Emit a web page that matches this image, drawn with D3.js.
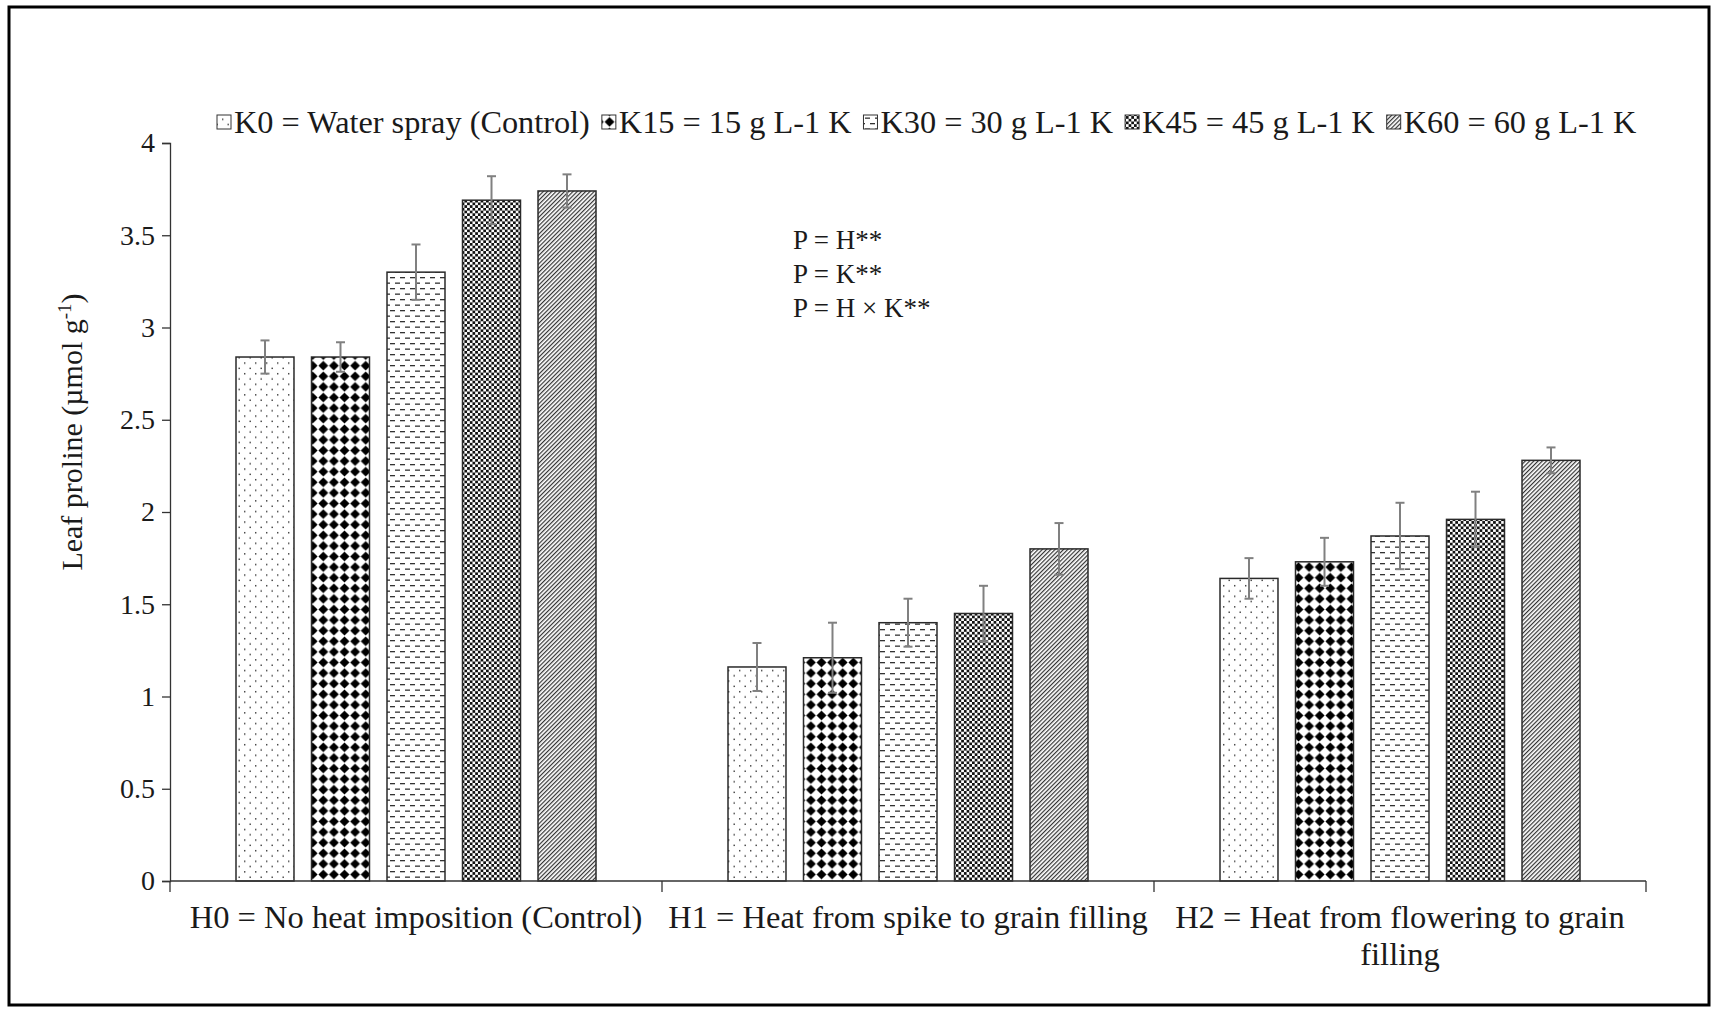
<!DOCTYPE html>
<html>
<head>
<meta charset="utf-8">
<script src="https://cdn.jsdelivr.net/npm/d3@7"></script>
<style>
  body { margin: 0; background: #fff; }
  svg { display: block; }
  text { font-family: "Liberation Serif", "Times New Roman", serif; fill: #1a1a1a; }
</style>
</head>
<body>
<svg id="chart" width="1715" height="1010"></svg>
<script>
// Heat treatments (groups on the x axis)
const categories = [
  "H0 = No heat imposition (Control)",
  "H1 = Heat from spike to grain filling",
  "H2 = Heat from flowering to grain filling"
];

// Potassium spray treatments (series)
const seriesKeys = ["K0", "K15", "K30", "K45", "K60"];
const seriesNames = [
  "K0 = Water spray (Control)",
  "K15 = 15 g L-1 K",
  "K30 = 30 g L-1 K",
  "K45 = 45 g L-1 K",
  "K60 = 60 g L-1 K"
];

// Leaf proline means (µmol g-1), one value per heat treatment
const k0Values  = [2.84, 1.16, 1.64];
const k15Values = [2.84, 1.21, 1.73];
const k30Values = [3.30, 1.40, 1.87];
const k45Values = [3.69, 1.45, 1.96];
const k60Values = [3.74, 1.80, 2.28];

// Standard errors
const k0Errors  = [0.09, 0.13, 0.11];
const k15Errors = [0.08, 0.19, 0.13];
const k30Errors = [0.15, 0.13, 0.18];
const k45Errors = [0.13, 0.15, 0.15];
const k60Errors = [0.09, 0.14, 0.07];

const yTicks = [0, 0.5, 1, 1.5, 2, 2.5, 3, 3.5, 4];
const yTickLabels = ["0", "0.5", "1", "1.5", "2", "2.5", "3", "3.5", "4"];

const significance = ["P = H**", "P = K**", "P = H \u00d7 K**"];

const seriesValues = [k0Values, k15Values, k30Values, k45Values, k60Values];
const seriesErrors = [k0Errors, k15Errors, k30Errors, k45Errors, k60Errors];

const SERIF = '"Liberation Serif", "Times New Roman", serif';
const svg = d3.select("#chart");
const W = 1715, H = 1010;
const margin = { left: 170, right: W - 1646, top: 143, bottom: H - 881 };

// Outer frame
svg.append("rect")
  .attr("x", 9).attr("y", 7).attr("width", 1700).attr("height", 998)
  .attr("fill", "#fff").attr("stroke", "#000").attr("stroke-width", 3);

// ---- Fill patterns ----
const defs = svg.append("defs");

// sparse dots
const pDots = defs.append("pattern").attr("id", "pat-K0")
  .attr("patternUnits", "userSpaceOnUse").attr("width", 11).attr("height", 10.6);
pDots.append("rect").attr("width", 11).attr("height", 10.6).attr("fill", "#fff");
pDots.append("rect").attr("x", 2).attr("y", 2).attr("width", 1.4).attr("height", 1.4).attr("fill", "#333");
pDots.append("rect").attr("x", 7.5).attr("y", 7.3).attr("width", 1.4).attr("height", 1.4).attr("fill", "#333");

// solid diamonds
const pDia = defs.append("pattern").attr("id", "pat-K15")
  .attr("patternUnits", "userSpaceOnUse").attr("width", 10.6).attr("height", 10.6);
pDia.append("rect").attr("width", 10.6).attr("height", 10.6).attr("fill", "#fff");
pDia.append("path").attr("d", "M5.3,0.4 L10.2,5.3 L5.3,10.2 L0.4,5.3 Z").attr("fill", "#000");

// dashed horizontal
const pDash = defs.append("pattern").attr("id", "pat-K30")
  .attr("patternUnits", "userSpaceOnUse").attr("width", 10).attr("height", 11);
pDash.append("rect").attr("width", 10).attr("height", 11).attr("fill", "#fff");
pDash.append("rect").attr("x", 0).attr("y", 2).attr("width", 5).attr("height", 1.3).attr("fill", "#333");
pDash.append("rect").attr("x", 5).attr("y", 7.5).attr("width", 5).attr("height", 1.3).attr("fill", "#333");

// small checkerboard
const pChk = defs.append("pattern").attr("id", "pat-K45")
  .attr("patternUnits", "userSpaceOnUse").attr("width", 5.4).attr("height", 5.4);
pChk.append("rect").attr("width", 5.4).attr("height", 5.4).attr("fill", "#fff");
pChk.append("rect").attr("x", 0).attr("y", 0).attr("width", 2.7).attr("height", 2.7).attr("fill", "#111");
pChk.append("rect").attr("x", 2.7).attr("y", 2.7).attr("width", 2.7).attr("height", 2.7).attr("fill", "#111");

// upward diagonal lines
const pDiag = defs.append("pattern").attr("id", "pat-K60")
  .attr("patternUnits", "userSpaceOnUse").attr("width", 3).attr("height", 10)
  .attr("patternTransform", "rotate(45)");
pDiag.append("rect").attr("width", 3).attr("height", 10).attr("fill", "#fff");
pDiag.append("rect").attr("x", 0).attr("y", 0).attr("width", 1.2).attr("height", 10).attr("fill", "#333");

// ---- Scales ----
const x0 = d3.scaleBand()
  .domain(categories)
  .range([margin.left, W - margin.right])
  .paddingInner(0).paddingOuter(0);

const x1 = d3.scaleBand()
  .domain(seriesKeys)
  .range([66, x0.bandwidth() - 66])
  .paddingInner(0.232).paddingOuter(0);

const y = d3.scaleLinear()
  .domain([0, 4])
  .range([H - margin.bottom, margin.top]);

// ---- Bars ----
const rows = [];
categories.forEach((c, ci) => {
  seriesKeys.forEach((k, si) => {
    rows.push({ cat: c, key: k, value: seriesValues[si][ci], err: seriesErrors[si][ci] });
  });
});

const bars = svg.append("g").attr("class", "bars");
bars.selectAll("rect")
  .data(rows)
  .join("rect")
  .attr("x", d => x0(d.cat) + x1(d.key))
  .attr("y", d => y(d.value))
  .attr("width", x1.bandwidth())
  .attr("height", d => y(0) - y(d.value))
  .attr("fill", d => `url(#pat-${d.key})`)
  .attr("stroke", "#2a2a2a")
  .attr("stroke-width", 1.5);

// ---- Error bars ----
const errG = svg.append("g").attr("class", "errors")
  .attr("stroke", "#808080").attr("stroke-width", 2).attr("fill", "none");
const cap = 4.5;
rows.forEach(d => {
  const cx = x0(d.cat) + x1(d.key) + x1.bandwidth() / 2;
  const yTop = y(d.value + d.err), yBot = y(d.value - d.err);
  errG.append("line").attr("x1", cx).attr("x2", cx).attr("y1", yTop).attr("y2", yBot);
  errG.append("line").attr("x1", cx - cap).attr("x2", cx + cap).attr("y1", yTop).attr("y2", yTop);
  errG.append("line").attr("x1", cx - cap).attr("x2", cx + cap).attr("y1", yBot).attr("y2", yBot);
});

// ---- Y axis ----
const yAxis = svg.append("g")
  .attr("transform", `translate(${margin.left},0)`)
  .call(d3.axisLeft(y).tickValues(yTicks).tickSize(8).tickPadding(7)
    .tickFormat((d, i) => yTickLabels[i]));
yAxis.attr("font-family", null);
yAxis.select(".domain").attr("stroke", "#333").attr("stroke-width", 1.3);
yAxis.selectAll(".tick line").attr("stroke", "#333").attr("stroke-width", 1.3);
yAxis.selectAll(".tick text")
  .style("font-family", SERIF).style("font-size", "28px").style("fill", "#1a1a1a");

// ---- X axis (ticks at group boundaries) ----
const xAxisG = svg.append("g").attr("stroke", "#333").attr("stroke-width", 1.3);
xAxisG.append("line")
  .attr("x1", x0.range()[0]).attr("x2", x0.range()[1])
  .attr("y1", y(0)).attr("y2", y(0));
const boundaries = categories.map(c => x0(c)).concat([x0.range()[1]]);
xAxisG.selectAll("line.tick").data(boundaries).join("line")
  .attr("class", "tick")
  .attr("x1", d => d).attr("x2", d => d)
  .attr("y1", y(0)).attr("y2", y(0) + 11);

// Category labels, wrapped to the group width
const catG = svg.append("g");
categories.forEach(c => {
  const cx = x0(c) + x0.bandwidth() / 2;
  const t = catG.append("text")
    .attr("x", cx)
    .attr("y", 928)
    .attr("text-anchor", "middle")
    .style("font-size", "32.5px");
  const words = c.split(" ");
  let line = [];
  let tspan = t.append("tspan").attr("x", cx).attr("dy", 0);
  words.forEach(w => {
    line.push(w);
    tspan.text(line.join(" "));
    if (tspan.node().getComputedTextLength() > x0.bandwidth() + 4 && line.length > 1) {
      line.pop();
      tspan.text(line.join(" "));
      line = [w];
      tspan = t.append("tspan").attr("x", cx).attr("dy", 37).text(w);
    }
  });
});

// ---- Y axis title ----
const yTitle = svg.append("text")
  .attr("transform", "translate(82,432) rotate(-90)")
  .attr("text-anchor", "middle")
  .style("font-size", "30px");
yTitle.append("tspan").text("Leaf proline (\u00b5mol g");
yTitle.append("tspan").style("font-size", "19px").attr("dy", -11).text("-1");
yTitle.append("tspan").attr("dy", 11).text(")");

// ---- Legend ----
const legend = svg.append("g").attr("class", "legend");
let lx = 217;
const ly = 122;
seriesKeys.forEach((k, i) => {
  legend.append("rect")
    .attr("x", lx).attr("y", ly - 7).attr("width", 14).attr("height", 14)
    .attr("fill", `url(#pat-${k})`).attr("stroke", "#333").attr("stroke-width", 1);
  const t = legend.append("text")
    .attr("x", lx + 17).attr("y", ly + 11)
    .style("font-size", "32.3px")
    .text(seriesNames[i]);
  lx += 17 + t.node().getComputedTextLength() + 12;
});

// ---- Significance notes ----
const noteG = svg.append("g");
significance.forEach((s, i) => {
  noteG.append("text")
    .attr("x", 793).attr("y", 249 + i * 34)
    .style("font-size", "27px")
    .text(s);
});
</script>
</body>
</html>
